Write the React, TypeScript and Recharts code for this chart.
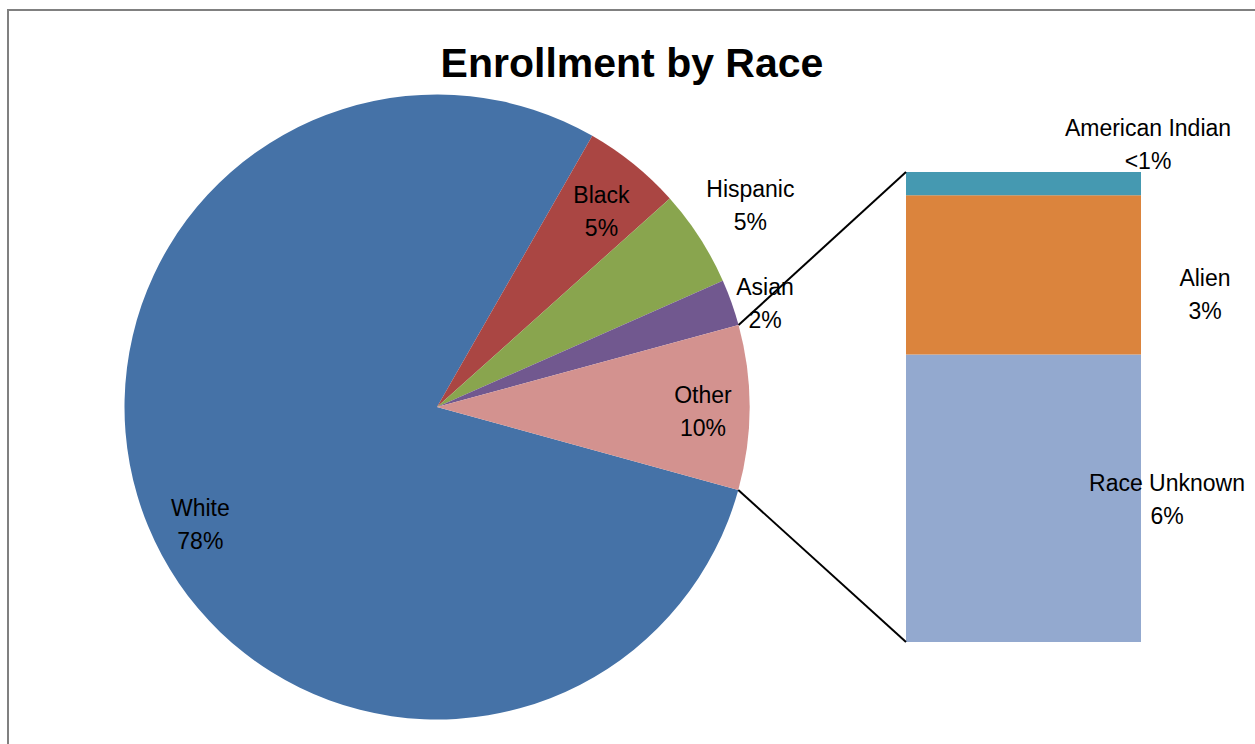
import { Bar, BarChart, Cell, LabelList, Pie, PieChart, XAxis, YAxis } from 'recharts'

// primary pie
const raceNames = ['White', 'Black', 'Hispanic', 'Asian', 'Other']
const raceShares = [79.0, 5.1, 5.0, 2.4, 8.5]
const raceLabels = ['78%', '5%', '5%', '2%', '10%']
const raceColors = ['#4572A7', '#AA4643', '#89A54E', '#71588F', '#D3928F']

// secondary stacked bar (split of "Other"), bottom to top
const otherNames = ['Race Unknown', 'Alien', 'American Indian']
const otherShares = [5.2, 2.88, 0.42]
const otherLabels = ['6%', '3%', '<1%']
const otherColors = ['#93A9CF', '#DB843D', '#4599B1']

const W = 1255
const H = 744
const FONT = '"Liberation Sans", Arial, sans-serif'

const pieCx = 437
const pieCy = 407
const pieR = 312.5
const pieEnd = -15.4
const pieStart = pieEnd + 360

// label placement for pie slices (radius, angle nudge)
const pieLabelPos = [
  { r: 264, da: 3.9 },
  { r: 256, da: -1 },
  { r: 373, da: 0 },
  { r: 344, da: -2 },
  { r: 266, da: -0.8 },
]

// bar placement
const bar = { left: 906, top: 172, right: 1141, bottom: 642 }
const barLabelOffset = [
  { dx: 143.5, dy: 1 },
  { dx: 181.5, dy: 19 },
  { dx: 124.5, dy: -39.5 },
]

const pieData = raceNames.map((name, i) => ({ name, value: raceShares[i] }))
const barRow: Record<string, number | string> = { name: 'Other' }
otherNames.forEach((n, i) => (barRow[n] = otherShares[i]))
const barTotal = otherShares.reduce((a, b) => a + b, 0)
const pieTotal = raceShares.reduce((a, b) => a + b, 0)

const RAD = Math.PI / 180

function TwoLine({ x, y, a, b }: { x: number; y: number; a: string; b: string }) {
  return (
    <text x={x} y={y} textAnchor="middle" fontFamily={FONT} fontSize={23} fill="#000">
      <tspan x={x} y={y - 8}>
        {a}
      </tspan>
      <tspan x={x} y={y + 25}>
        {b}
      </tspan>
    </text>
  )
}

function pieLabel(props: any) {
  const { cx, cy, midAngle, index } = props
  const p = pieLabelPos[index]
  const ang = (midAngle + p.da) * RAD
  const x = cx + p.r * Math.cos(ang)
  const y = cy - p.r * Math.sin(ang)
  return <TwoLine key={index} x={x} y={y} a={raceNames[index]} b={raceLabels[index]} />
}

function barLabel(i: number) {
  return (props: any) => {
    const { x, y, width, height } = props
    const o = barLabelOffset[i]
    return (
      <TwoLine
        x={Number(x) + Number(width) / 2 + o.dx}
        y={Number(y) + Number(height) / 2 + o.dy}
        a={otherNames[i]}
        b={otherLabels[i]}
      />
    )
  }
}

export default function App() {
  const otherIdx = raceNames.indexOf('Other')
  const a1 = pieEnd * RAD
  const a2 = (pieEnd + (raceShares[otherIdx] / pieTotal) * 360) * RAD
  const p1 = { x: pieCx + pieR * Math.cos(a1), y: pieCy - pieR * Math.sin(a1) }
  const p2 = { x: pieCx + pieR * Math.cos(a2), y: pieCy - pieR * Math.sin(a2) }

  return (
    <div style={{ position: 'absolute', left: 0, top: 0, width: W, height: H, background: '#fff', overflow: 'hidden' }}>
      <div
        style={{
          position: 'absolute',
          left: 7,
          top: 9,
          width: W,
          height: H,
          borderLeft: '2px solid #808080',
          borderTop: '2px solid #808080',
        }}
      />
      <div style={{ position: 'absolute', left: 0, top: 0 }}>
        <PieChart width={W} height={H} margin={{ top: 0, right: 0, bottom: 0, left: 0 }}>
          <Pie
            data={pieData}
            dataKey="value"
            nameKey="name"
            cx={pieCx}
            cy={pieCy}
            outerRadius={pieR}
            startAngle={pieStart}
            endAngle={pieEnd}
            stroke="none"
            label={pieLabel}
            labelLine={false}
            isAnimationActive={false}
          >
            {pieData.map((d, i) => (
              <Cell key={d.name} fill={raceColors[i]} />
            ))}
          </Pie>
        </PieChart>
      </div>
      <div style={{ position: 'absolute', left: 0, top: 0 }}>
        <BarChart
          width={W}
          height={H}
          data={[barRow]}
          barCategoryGap={0}
          margin={{ left: bar.left, top: bar.top, right: W - bar.right, bottom: H - bar.bottom }}
        >
          <XAxis dataKey="name" hide />
          <YAxis hide domain={[0, barTotal]} />
          {otherNames.map((n, i) => (
            <Bar key={n} dataKey={n} stackId="o" fill={otherColors[i]} isAnimationActive={false}>
              <LabelList dataKey={n} content={barLabel(i)} />
            </Bar>
          ))}
        </BarChart>
      </div>
      <svg width={W} height={H} style={{ position: 'absolute', left: 0, top: 0, pointerEvents: 'none' }}>
        <line x1={p1.x} y1={p1.y} x2={bar.left} y2={bar.bottom} stroke="#000" strokeWidth={2} />
        <line x1={p2.x} y1={p2.y} x2={bar.left} y2={bar.top} stroke="#000" strokeWidth={2} />
        <text x={632} y={77} textAnchor="middle" fontFamily={FONT} fontWeight="bold" fontSize={41} fill="#000">
          Enrollment by Race
        </text>
      </svg>
    </div>
  )
}
